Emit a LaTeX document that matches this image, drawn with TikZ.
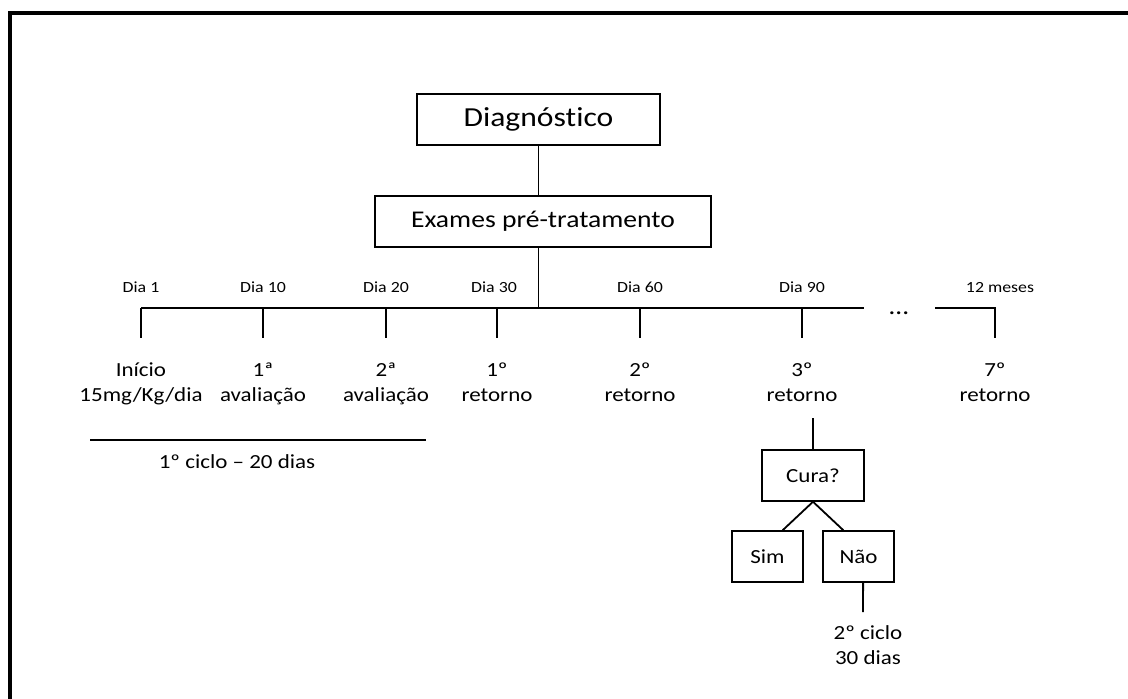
\documentclass[tikz,border=0pt]{standalone}
\usepackage{fontspec}
\setmainfont{Carlito}[FakeStretch=1.15, Ligatures={NoCommon,NoContextual}]

\tikzset{
  stage/.style={draw, line width=1.5pt, inner sep=0pt, minimum height=51pt},
  day/.style={anchor=base, font=\fontsize{15.5}{18}\selectfont},
  event/.style={anchor=base, align=center, font=\fontsize{20}{24.5}\selectfont},
  link/.style={line width=1.8pt},
}

\begin{document}
\begin{tikzpicture}[x=1pt,y=-1pt]
    \useasboundingbox (0,0) rectangle (1128,699);

    % moldura
    \draw[line width=3.5pt] (10,699) -- (10,13) -- (1128,13);

    \node[stage, minimum width=243pt, font=\fontsize{27.5}{33}\selectfont]
        (diag) at (538.5,119.5) {Diagnóst\kern0pt ico};
    \node[stage, minimum width=336pt, font=\fontsize{24}{29}\selectfont]
        (exames) at (543,221.5) {Exames pré-tratamento};

    % linha do tempo
    \coordinate (d1) at (141,308);
    \coordinate (d10) at (263,308);
    \coordinate (d20) at (386,308);
    \coordinate (d30) at (497,308);
    \coordinate (d60) at (640,308);
    \coordinate (d90) at (802,308);
    \coordinate (m12) at (995,308);
    \coordinate (gapl) at (864,308);
    \coordinate (gapr) at (935,308);
    \coordinate (tick) at (0,338);

    \draw[link] (diag.south) -- (diag.south |- exames.north);
    \draw[link] (diag.south |- exames.south) -- (diag.south |- d1);
    \draw[link] (d1) -- (gapl);
    \draw[link] (gapr) -- (m12) -- (m12 |- tick);
    \draw[link] (d1) -- (d1 |- tick);
    \draw[link] (d10) -- (d10 |- tick);
    \draw[link] (d20) -- (d20 |- tick);
    \draw[link] (d30) -- (d30 |- tick);
    \draw[link] (d60) -- (d60 |- tick);
    \draw[link] (d90) -- (d90 |- tick);
    \node[anchor=base, font=\fontsize{24}{24}\selectfont] (dots) at (899,314) {…};

    \node[day] (l1) at (141,292) {Dia 1};
    \node[day] (l10) at (263,292) {Dia 10};
    \node[day] (l20) at (386,292) {Dia 20};
    \node[day] (l30) at (494,292) {Dia 30};
    \node[day] (l60) at (640,292) {Dia 60};
    \node[day] (l90) at (802,292) {Dia 90};
    \node[day] (l12) at (1000,292) {12 meses};

    \node[event] (inicio) at (141,401) {Início\\15mg/Kg/dia};
    \node[event] (aval1) at (263,401) {1ª\\avaliação};
    \node[event] (aval2) at (386,401) {2ª\\avaliação};
    \node[event] (ret1) at (497,401) {1º\\retorno};
    \node[event] (ret2) at (640,401) {2º\\retorno};
    \node[event] (ret3) at (802,401) {3º\\retorno};
    \node[event] (ret7) at (995,401) {7º\\retorno};

    % primeiro ciclo
    \coordinate (cycl) at (90,440);
    \coordinate (cycr) at (426,440);
    \draw[link] (cycl) -- (cycr);
    \node[event] (ciclo1) at (237,468) {1º ciclo – 20 dias};

    % decisao
    \coordinate (ret3b) at (813,418);
    \node[stage, minimum width=102pt, font=\fontsize{20}{25}\selectfont]
        (cura) at (813,475.5) {Cura?};
    \node[stage, minimum width=71pt, font=\fontsize{20}{25}\selectfont]
        (sim) at (767.5,556.5) {Sim};
    \node[stage, minimum width=71pt, font=\fontsize{20}{25}\selectfont]
        (nao) at (858.5,556.5) {Não};
    \draw[link] (ret3b) -- (cura.north);
    \draw[link] (cura.south) -- (sim.60);
    \draw[link] (cura.south) -- (nao.120);

    \coordinate (nao2) at (863,612);
    \draw[link] (nao.-80) -- (nao2);
    \node[event] (ciclo2) at (868,664) {2º ciclo\\30 dias};

\end{tikzpicture}
\end{document}
